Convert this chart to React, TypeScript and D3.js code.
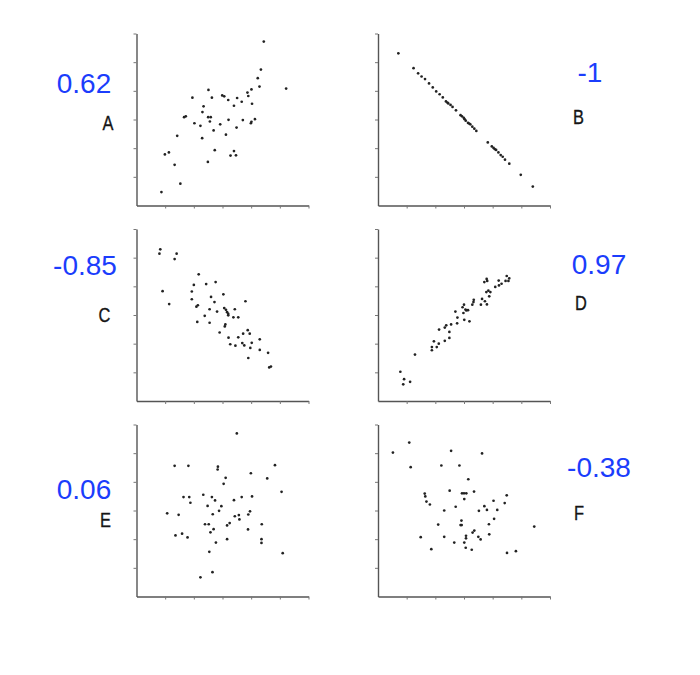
import React, { useEffect, useRef } from 'react';
import * as d3 from 'd3';

// correlation values shown next to each panel
const letters = ['A', 'B', 'C', 'D', 'E', 'F'];
const correlations = ['0.62', '-1', '-0.85', '0.97', '0.06', '-0.38'];
const tickValues = [1, 2, 3, 4, 5, 6];

type Pt = [number, number];

const panelA: Pt[] = [
  [4.44, 5.72], [4.34, 4.74], [4.23, 4.44], [4.29, 4.15], [5.22, 4.08], [4.01, 4.05],
  [3.87, 3.94], [3.9, 3.82], [4.03, 3.55], [3.67, 3.62], [3.51, 3.75], [3.2, 3.68],
  [2.99, 3.84], [3.06, 3.81], [3.4, 3.48], [2.51, 4.03], [2.63, 3.76], [1.95, 3.76],
  [2.34, 3.46], [2.3, 3.26], [1.72, 3.11], [1.66, 3.08], [2.5, 3.08], [2.59, 3.08],
  [2.56, 2.93], [2.02, 2.87], [2.23, 2.78], [2.92, 2.83], [2.69, 2.62], [3.21, 2.99],
  [3.71, 2.98], [4.13, 3.01], [4.01, 2.92], [3.99, 2.87], [3.49, 2.72], [3.12, 2.47],
  [2.29, 2.35], [1.42, 2.43], [2.73, 1.93], [3.4, 1.9], [3.28, 1.74], [3.47, 1.75],
  [2.49, 1.52], [0.99, 1.78], [1.13, 1.85], [1.33, 1.42], [1.53, 0.76], [0.87, 0.47],
];

const panelB: Pt[] = [
  [0.71, 5.31], [1.24, 4.79], [1.4, 4.61], [1.52, 4.5], [1.64, 4.41], [1.78, 4.26],
  [1.91, 4.12], [2.03, 3.98], [2.15, 3.88], [2.26, 3.77], [2.37, 3.63], [2.42, 3.59],
  [2.45, 3.56], [2.53, 3.51], [2.6, 3.44], [2.72, 3.32], [2.88, 3.15], [2.93, 3.11],
  [2.99, 3.06], [3.02, 3.01], [3.06, 2.96], [3.14, 2.88], [3.18, 2.86], [3.22, 2.83],
  [3.29, 2.75], [3.36, 2.68], [3.43, 2.6], [3.83, 2.2], [3.97, 2.06], [4.03, 2.01],
  [4.07, 1.97], [4.12, 1.94], [4.2, 1.85], [4.28, 1.76], [4.35, 1.7], [4.43, 1.6],
  [4.58, 1.46], [4.98, 1.07], [5.4, 0.66],
];

const panelC: Pt[] = [
  [0.83, 5.29], [0.8, 5.14], [1.4, 5.14], [1.33, 4.95], [0.91, 3.83], [1.14, 3.38],
  [2.17, 4.42], [2.0, 4.05], [2.43, 4.08], [2.76, 4.15], [1.93, 3.82], [1.93, 3.55],
  [2.6, 3.63], [2.72, 3.45], [2.14, 3.34], [2.09, 3.29], [3.03, 3.72], [2.55, 3.2],
  [2.81, 3.12], [3.06, 3.24], [3.12, 3.18], [3.16, 3.1], [3.2, 3.04], [3.2, 2.99],
  [3.43, 3.2], [3.38, 2.92], [3.55, 2.92], [3.8, 3.48], [2.38, 2.97], [2.12, 2.76],
  [2.55, 2.73], [3.1, 2.67], [3.08, 2.6], [2.9, 2.39], [3.21, 2.21], [3.27, 1.98],
  [3.45, 1.93], [3.55, 2.22], [3.72, 2.35], [3.88, 2.47], [3.95, 2.35], [3.69, 2.02],
  [3.76, 1.94], [4.02, 2.03], [3.97, 1.85], [3.9, 1.5], [4.3, 2.15], [4.3, 1.78],
  [4.59, 1.68], [4.63, 1.17], [4.69, 1.2],
];

const panelD: Pt[] = [
  [0.78, 1.02], [0.91, 0.76], [0.88, 0.58], [1.12, 0.67], [1.29, 1.62], [1.88, 1.77],
  [1.88, 1.88], [1.95, 2.08], [2.05, 1.88], [2.12, 2.0], [2.13, 2.49], [2.33, 2.1],
  [2.33, 2.56], [2.38, 2.64], [2.49, 2.41], [2.49, 2.2], [2.55, 2.67], [2.7, 3.12],
  [2.77, 2.91], [2.76, 2.71], [2.95, 3.27], [3.0, 3.36], [2.98, 3.07], [3.05, 3.19],
  [3.08, 3.16], [3.14, 3.17], [3.01, 2.83], [3.19, 2.78], [3.29, 3.36], [3.33, 3.45],
  [3.34, 3.53], [3.59, 3.36], [3.63, 3.56], [3.73, 3.48], [3.8, 3.37], [3.71, 4.15],
  [3.79, 4.26], [3.81, 4.19], [3.78, 3.8], [3.85, 3.85], [3.88, 3.65], [3.92, 3.8],
  [4.09, 3.98], [4.21, 4.2], [4.22, 4.03], [4.31, 4.09], [4.45, 4.19], [4.49, 4.36],
  [4.55, 4.19], [4.58, 4.28],
];

const panelE: Pt[] = [
  [3.5, 5.69], [1.33, 4.56], [1.81, 4.56], [2.84, 4.53], [2.83, 4.43], [4.83, 4.58],
  [3.99, 4.3], [4.56, 4.12], [3.11, 4.14], [3.04, 3.93], [5.06, 3.65], [2.33, 3.55],
  [1.64, 3.47], [1.84, 3.47], [2.63, 3.47], [2.74, 3.35], [1.88, 3.27], [3.4, 3.36],
  [3.67, 3.47], [4.03, 3.49], [2.48, 3.16], [2.96, 3.15], [2.88, 2.99], [1.07, 2.9],
  [1.47, 2.85], [2.66, 2.87], [3.43, 2.8], [3.57, 2.84], [3.59, 2.69], [3.96, 2.97],
  [3.9, 2.86], [2.39, 2.52], [2.52, 2.52], [3.16, 2.48], [3.25, 2.56], [4.37, 2.52],
  [2.69, 2.35], [2.58, 2.24], [3.89, 2.34], [1.36, 2.13], [1.59, 2.19], [1.78, 2.06],
  [3.16, 2.0], [2.77, 1.88], [4.36, 2.0], [4.36, 1.87], [2.54, 1.56], [5.1, 1.51],
  [2.65, 0.85], [2.23, 0.67],
];

const panelF: Pt[] = [
  [1.09, 5.37], [0.52, 5.02], [1.14, 4.51], [2.55, 5.08], [3.63, 4.99], [2.21, 4.57],
  [2.84, 4.57], [3.15, 4.09], [2.5, 3.69], [2.93, 3.6], [3.0, 3.6], [3.08, 3.6],
  [3.35, 3.66], [1.63, 3.59], [1.65, 3.49], [1.69, 3.31], [1.81, 3.21], [3.01, 3.4],
  [2.71, 3.13], [2.31, 3.0], [3.52, 2.99], [3.71, 3.15], [3.8, 3.02], [4.03, 3.34],
  [4.16, 3.02], [4.49, 3.53], [4.42, 3.26], [4.05, 2.71], [3.87, 2.52], [2.91, 2.65],
  [2.88, 2.49], [2.92, 2.49], [2.1, 2.51], [3.36, 2.3], [3.3, 2.23], [5.45, 2.44],
  [3.88, 2.17], [3.07, 2.12], [3.07, 2.03], [3.5, 2.08], [3.58, 1.99], [1.49, 2.07],
  [2.31, 2.08], [2.66, 1.88], [3.01, 1.88], [3.06, 1.7], [3.27, 1.63], [1.86, 1.65],
  [4.5, 1.52], [4.81, 1.58],
];

const panels = [panelA, panelB, panelC, panelD, panelE, panelF];

const App: React.FC = () => {
  const svgRef = useRef<SVGSVGElement>(null);

  useEffect(() => {
    if (!svgRef.current) return;
    d3.select(svgRef.current).selectAll('*').remove();

    const width = 700;
    const height = 675;
    const size = 172; // 6 units per axis

    // origin of each panel (left axis x, bottom axis y)
    const colX = [136.5, 378];
    const rowY = [205.5, 401, 596.5];

    // label placement: [number x, number baseline, letter x, letter baseline]
    const labelPos = [
      [84, 93, 108, 130],
      [590, 81.5, 578.5, 124],
      [85, 275, 104.5, 321.5],
      [599, 273.5, 581, 310],
      [84, 498.5, 105.5, 526.5],
      [599, 476.5, 579, 520],
    ];

    const svg = d3.select(svgRef.current)
      .attr('width', width)
      .attr('height', height);

    svg.append('rect')
      .attr('width', width)
      .attr('height', height)
      .attr('fill', '#ffffff');

    panels.forEach((pts, i) => {
      const ox = colX[i % 2];
      const oy = rowY[Math.floor(i / 2)];

      const x = d3.scaleLinear().domain([0, 6]).range([0, size]);
      const y = d3.scaleLinear().domain([0, 6]).range([0, -size]);

      const g = svg.append('g').attr('transform', `translate(${ox}, ${oy})`);

      // axes, unlabelled ticks like the scan
      const xAxis = g.append('g')
        .call(d3.axisBottom(x).tickValues(tickValues).tickSize(3).tickSizeOuter(0).tickFormat(() => ''));
      const yAxis = g.append('g')
        .call(d3.axisLeft(y).tickValues(tickValues).tickSize(3).tickSizeOuter(0).tickFormat(() => ''));

      [xAxis, yAxis].forEach(ax => {
        ax.select('.domain').attr('stroke', '#555').attr('stroke-width', 1.4);
        ax.selectAll('.tick line').attr('stroke', '#777').attr('stroke-width', 1);
      });

      // points
      g.selectAll('circle')
        .data(pts)
        .join('circle')
        .attr('cx', d => x(d[0]))
        .attr('cy', d => y(d[1]))
        .attr('r', 1.35)
        .attr('fill', '#222');

      const [nx, ny, lx, ly] = labelPos[i];

      svg.append('text')
        .attr('x', nx)
        .attr('y', ny)
        .attr('text-anchor', 'middle')
        .style('font-family', '"Liberation Sans", Arial, sans-serif')
        .style('font-size', '28px')
        .style('fill', '#1b3dfc')
        .text(correlations[i]);

      // panel letter: narrow, squeezed sideways like the scan
      svg.append('text')
        .attr('transform', `translate(${lx}, ${ly}) scale(0.8, 1)`)
        .attr('text-anchor', 'middle')
        .style('font-family', '"Liberation Sans", Arial, sans-serif')
        .style('font-size', '20.5px')
        .style('fill', '#151515')
        .style('stroke', '#151515')
        .style('stroke-width', 0.35)
        .text(letters[i]);
    });
  }, []);

  return (
    <div>
      <svg ref={svgRef} style={{ position: 'absolute', left: 0, top: 0, display: 'block' }} />
    </div>
  );
};

export default App;
